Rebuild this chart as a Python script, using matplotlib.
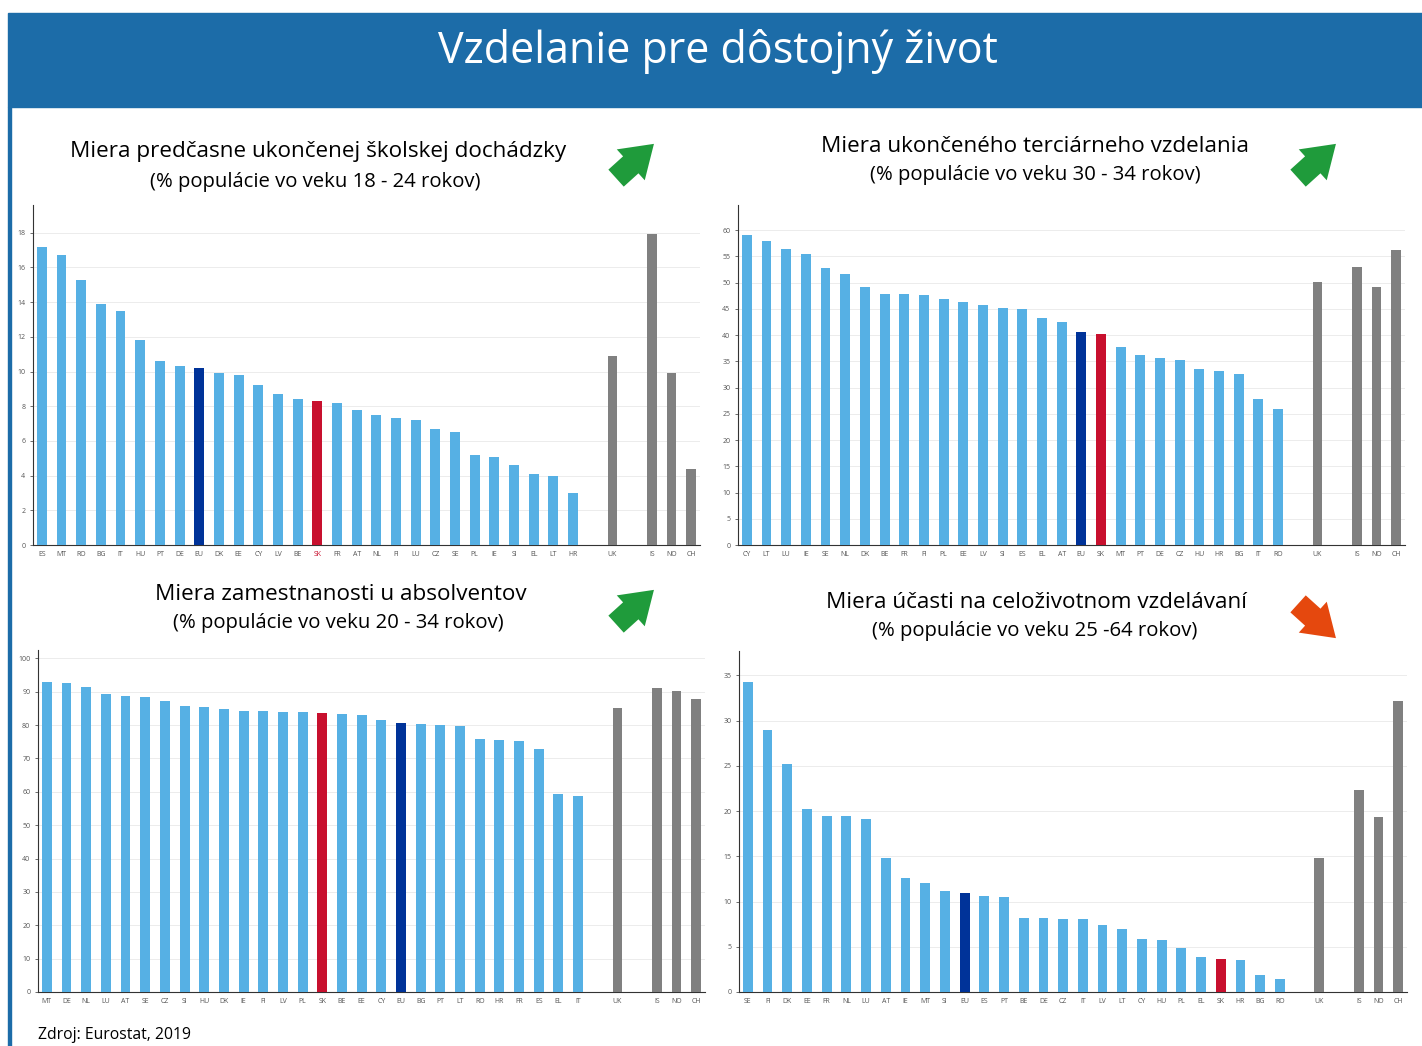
import numpy as np
import matplotlib.pyplot as plt
from matplotlib.patches import Rectangle, FancyArrowPatch

plt.rcParams['font.family'] = ['Open Sans', 'DejaVu Sans']

# Non-EU countries shown at the right of every panel
other_labels = ['UK', 'IS', 'NO', 'CH']

# Early leavers from education and training
p1_labels = ['ES', 'MT', 'RO', 'BG', 'IT', 'HU', 'PT', 'DE', 'EU', 'DK', 'EE', 'CY', 'LV', 'BE',
             'SK', 'FR', 'AT', 'NL', 'FI', 'LU', 'CZ', 'SE', 'PL', 'IE', 'SI', 'EL', 'LT', 'HR']
p1_values = [17.2, 16.7, 15.3, 13.9, 13.5, 11.8, 10.6, 10.3, 10.2, 9.9, 9.8, 9.2, 8.7, 8.4,
             8.3, 8.2, 7.8, 7.5, 7.3, 7.2, 6.7, 6.5, 5.2, 5.1, 4.6, 4.1, 4.0, 3.0]
p1_other = [10.9, 17.9, 9.9, 4.4]

# Tertiary educational attainment
p2_labels = ['CY', 'LT', 'LU', 'IE', 'SE', 'NL', 'DK', 'BE', 'FR', 'FI', 'PL', 'EE', 'LV', 'SI',
             'ES', 'EL', 'AT', 'EU', 'SK', 'MT', 'PT', 'DE', 'CZ', 'HU', 'HR', 'BG', 'IT', 'RO']
p2_values = [59.0, 57.9, 56.4, 55.4, 52.8, 51.6, 49.2, 47.8, 47.8, 47.6, 46.8, 46.4, 45.8, 45.1,
             45.0, 43.2, 42.5, 40.5, 40.3, 37.8, 36.3, 35.6, 35.2, 33.5, 33.2, 32.6, 27.9, 26.0]
p2_other = [50.1, 53.0, 49.1, 56.3]

# Employment rate of recent graduates
p3_labels = ['MT', 'DE', 'NL', 'LU', 'AT', 'SE', 'CZ', 'SI', 'HU', 'DK', 'IE', 'FI', 'LV', 'PL',
             'SK', 'BE', 'EE', 'CY', 'EU', 'BG', 'PT', 'LT', 'RO', 'HR', 'FR', 'ES', 'EL', 'IT']
p3_values = [93.0, 92.5, 91.5, 89.2, 88.7, 88.5, 87.2, 85.7, 85.3, 84.7, 84.2, 84.2, 83.9, 83.9,
             83.7, 83.4, 83.0, 81.5, 80.7, 80.4, 80.0, 79.8, 75.8, 75.6, 75.3, 72.7, 59.2, 58.6]
p3_other = [85.0, 91.1, 90.3, 87.7]

# Adult participation in learning
p4_labels = ['SE', 'FI', 'DK', 'EE', 'FR', 'NL', 'LU', 'AT', 'IE', 'MT', 'SI', 'EU', 'ES', 'PT',
             'BE', 'DE', 'CZ', 'IT', 'LV', 'LT', 'CY', 'HU', 'PL', 'EL', 'SK', 'HR', 'BG', 'RO']
p4_values = [34.3, 29.0, 25.2, 20.2, 19.5, 19.5, 19.1, 14.8, 12.6, 12.1, 11.2, 10.9, 10.6, 10.5,
             8.2, 8.2, 8.1, 8.1, 7.4, 7.0, 5.9, 5.8, 4.9, 3.9, 3.6, 3.5, 1.9, 1.4]
p4_other = [14.8, 22.3, 19.3, 32.2]

W, H = 1422, 1046
LIGHT = '#56B0E4'
DARK = '#003399'
RED = '#C8102E'
GREY = '#808080'
BAND = '#1C6CA8'


def px_axes(fig, left, top, right, bottom):
    # axes placed with pixel coords of the reference
    return fig.add_axes([left / W, 1 - bottom / H, (right - left) / W, (bottom - top) / H])


def draw_panel(ax, labels, values, other, ymax, ystep, red_sk_label=False):
    n = len(labels)
    # one empty slot before UK and one before IS
    xpos = list(range(n)) + [n + 1] + [n + 3 + i for i in range(len(other) - 1)]
    all_labels = labels + other_labels
    all_values = values + other
    colors = []
    for lab in labels:
        if lab == 'EU':
            colors.append(DARK)
        elif lab == 'SK':
            colors.append(RED)
        else:
            colors.append(LIGHT)
    colors += [GREY] * len(other)

    ax.bar(xpos, all_values, width=0.5, color=colors, zorder=3)
    ax.set_xlim(-0.45, xpos[-1] + 0.45)
    ax.set_ylim(0, ymax)
    ax.set_yticks(np.arange(0, ymax, ystep))
    ax.set_xticks(xpos)
    ax.set_xticklabels(all_labels)
    ax.grid(axis='y', color='#ececec', lw=0.7, zorder=0)
    ax.tick_params(axis='both', labelsize=5, colors='#555555', length=2, width=0.6)
    ax.tick_params(axis='x', length=0, pad=4)
    for s in ['top', 'right']:
        ax.spines[s].set_visible(False)
    for s in ['left', 'bottom']:
        ax.spines[s].set_color('#333333')
        ax.spines[s].set_linewidth(0.8)
    if red_sk_label:
        for t in ax.get_xticklabels():
            if t.get_text() == 'SK':
                t.set_color(RED)


def arrow(fig, x0, y0, x1, y1, color):
    a = FancyArrowPatch((x0 / W, 1 - y0 / H), (x1 / W, 1 - y1 / H),
                        transform=fig.transFigure,
                        arrowstyle='simple,head_width=2.0,head_length=1.5,tail_width=1.1',
                        mutation_scale=15, color=color, lw=0)
    fig.patches.append(a)


fig = plt.figure(figsize=(W / 100, H / 100), dpi=100)

# header band and left border
fig.patches.append(Rectangle((8 / W, 1 - 107 / H), 1 - 8 / W, 94 / H,
                             transform=fig.transFigure, color=BAND, zorder=0))
fig.patches.append(Rectangle((8 / W, 0), 3 / W, 1 - 107 / H,
                             transform=fig.transFigure, color=BAND, zorder=0))
fig.text(718 / W, 1 - 52 / H, 'Vzdelanie pre dôstojný život', color='white',
         fontsize=31, ha='center', va='center')

# panel titles
fig.text(318 / W, 1 - 151 / H, 'Miera predčasne ukončenej školskej dochádzky',
         fontsize=16.2, ha='center', va='center')
fig.text(315 / W, 1 - 182 / H, '(% populácie vo veku 18 - 24 rokov)',
         fontsize=14.6, ha='center', va='center')
fig.text(1035 / W, 1 - 146 / H, 'Miera ukončeného terciárneho vzdelania',
         fontsize=16.2, ha='center', va='center')
fig.text(1035 / W, 1 - 175 / H, '(% populácie vo veku 30 - 34 rokov)',
         fontsize=14.6, ha='center', va='center')
fig.text(341 / W, 1 - 594 / H, 'Miera zamestnanosti u absolventov',
         fontsize=16.2, ha='center', va='center')
fig.text(338 / W, 1 - 623 / H, '(% populácie vo veku 20 - 34 rokov)',
         fontsize=14.6, ha='center', va='center')
fig.text(1037 / W, 1 - 603 / H, 'Miera účasti na celoživotnom vzdelávaní',
         fontsize=16.2, ha='center', va='center')
fig.text(1035 / W, 1 - 631 / H, '(% populácie vo veku 25 -64 rokov)',
         fontsize=14.6, ha='center', va='center')

# trend arrows
arrow(fig, 614, 180, 656, 142, '#1F9B3B')
arrow(fig, 1296, 180, 1338, 142, '#1F9B3B')
arrow(fig, 614, 626, 656, 588, '#1F9B3B')
arrow(fig, 1296, 602, 1338, 640, '#E5480E')

ax1 = px_axes(fig, 33, 205, 700, 545)
draw_panel(ax1, p1_labels, p1_values, p1_other, 19.6, 2, red_sk_label=True)
ax2 = px_axes(fig, 738, 205, 1405, 545)
draw_panel(ax2, p2_labels, p2_values, p2_other, 64.8, 5)
ax3 = px_axes(fig, 38, 650, 705, 992)
draw_panel(ax3, p3_labels, p3_values, p3_other, 102.5, 10)
ax4 = px_axes(fig, 739, 651, 1407, 992)
draw_panel(ax4, p4_labels, p4_values, p4_other, 37.7, 5)

fig.text(38 / W, 1 - 1035 / H, 'Zdroj: Eurostat, 2019', fontsize=11.3, ha='left', va='center')

plt.savefig('out.png', dpi=100)
